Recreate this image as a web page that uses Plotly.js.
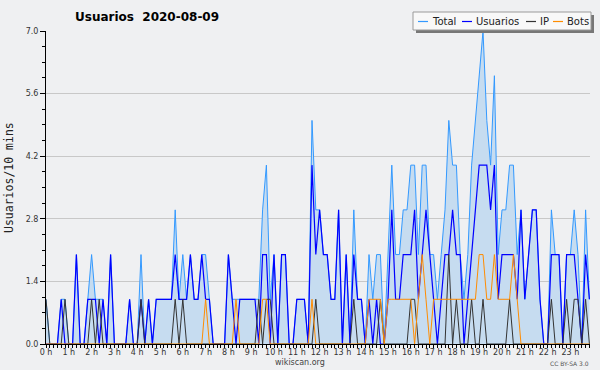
<!DOCTYPE html>
<html><head><meta charset="utf-8">
<script src="https://cdn.plot.ly/plotly-3.0.1.min.js"></script>
<style>html,body{margin:0;padding:0;background:#eff0f2;}#chart{width:600px;height:370px;}</style>
</head><body><div id="chart"></div>
<script>
// 10-minute slots, 144 per day (index 0 = 00:00)
const hourTicks = [0,1,2,3,4,5,6,7,8,9,10,11,12,13,14,15,16,17,18,19,20,21,22,23];
const hourLabels = ["0 h","1 h","2 h","3 h","4 h","5 h","6 h","7 h","8 h","9 h","10 h","11 h","12 h","13 h","14 h","15 h","16 h","17 h","18 h","19 h","20 h","21 h","22 h","23 h"];
const yTicks = [0, 1.4, 2.8, 4.2, 5.6, 7.0];
const yLabels = ["0.0","1.4","2.8","4.2","5.6","7.0"];
const seriesNames = ["Total","Usuarios","IP","Bots"];

const total = [
 1,0,0,0,1,1, 0,0,2,0,0,1, 2,1,1,1,0,2, 0,0,0,0,1,0,
 0,2,0,1,0,1, 1,1,1,1,3,1, 2,1,2,1,1,2, 2,1,0,0,0,0,
 2,1,1,1,1,1, 1,1,1,3,4,1, 2,0,2,2,0,0, 1,1,1,0,5,3,
 3,2,2,1,1,3, 0,2,0,3,1,1, 0,2,1,2,2,0, 2,4,2,2,3,3,
 4,4,2,4,4,2, 2,1,2,3,5,4, 4,2,1,2,4,5, 6,7,5,4,6,2,
 3,3,4,4,2,3, 1,2,3,3,1,0, 0,3,2,2,0,2, 2,3,2,0,3,1
];
const usuarios = [
 0,0,0,0,1,0, 0,0,2,0,0,1, 1,1,0,1,0,2, 0,0,0,0,1,0,
 0,1,0,1,0,1, 1,1,1,1,2,1, 1,1,2,1,1,2, 1,1,0,0,0,0,
 2,1,0,1,1,1, 1,1,0,2,2,0, 2,0,2,2,0,0, 1,1,1,0,4,2,
 3,2,2,1,1,3, 0,2,0,2,1,1, 0,1,0,1,0,0, 1,3,1,1,2,2,
 2,3,1,2,3,2, 1,0,1,2,2,3, 2,2,0,1,2,3, 4,4,4,3,4,1,
 2,2,2,2,1,3, 1,2,3,3,1,0, 0,2,2,2,0,2, 2,2,1,0,2,1
];
const ip = [
 1,0,0,0,0,1, 0,0,0,0,0,0, 1,0,1,0,0,0, 0,0,0,0,0,0,
 0,1,0,0,0,0, 0,0,0,0,1,0, 1,0,0,0,0,0, 0,0,0,0,0,0,
 0,0,0,0,0,0, 0,0,1,0,1,1, 0,0,0,0,0,0, 0,0,0,0,0,1,
 0,0,0,0,0,0, 0,0,0,1,0,0, 0,0,0,0,1,0, 0,0,0,0,0,0,
 1,1,0,0,0,0, 0,0,0,0,2,0, 1,0,0,0,1,0, 0,1,0,0,0,0,
 0,0,1,0,0,0, 0,0,0,0,0,0, 0,1,0,0,0,1, 0,1,1,0,1,0
];
const bots = [
 0,0,0,0,0,0, 0,0,0,0,0,0, 0,0,0,0,0,0, 0,0,0,0,0,0,
 0,0,0,0,0,0, 0,0,0,0,0,0, 0,0,0,0,0,0, 1,0,0,0,0,0,
 0,0,1,0,0,0, 0,0,0,1,1,0, 0,0,0,0,0,0, 0,0,0,0,1,0,
 0,0,0,0,0,0, 0,0,0,0,0,0, 0,1,1,1,1,0, 1,1,1,1,1,1,
 1,0,1,2,1,0, 1,1,1,1,1,1, 1,1,1,1,1,1, 2,2,1,1,2,1,
 1,1,1,2,1,0, 0,0,0,0,0,0, 0,0,0,0,0,0, 0,0,0,0,0,0
];

const xs = total.map((_, i) => i / 6);
const colors = ["#3399ff", "#0000ff", "#333333", "#ff8c00"];
const widths = [1, 1.2, 1, 1];

const traces = [total, usuarios, ip, bots].map((vals, k) => {
  const t = {x: xs, y: vals, type: "scatter", mode: "lines", name: seriesNames[k],
    line: {color: colors[k], width: widths[k]}, hoverinfo: "skip"};
  if (k === 0) { t.fill = "tozeroy"; t.fillcolor = "#c6dcf0"; }
  return t;
});

// pixel -> paper helpers (plot area 46..590 x, 31..344 y)
const px = v => (v - 46) / 544;
const py = v => (344 - v) / 313;

const shapes = [
  {type:"rect", xref:"paper", yref:"paper", x0:px(416), x1:px(594), y0:py(15), y1:py(33), fillcolor:"#777777", line:{width:0}, layer:"above"},
  {type:"rect", xref:"paper", yref:"paper", x0:px(413), x1:px(591), y0:py(12), y1:py(30), fillcolor:"#f8f8f8", line:{color:"#9a9a9a", width:1}, layer:"above"}
];
const legendLayout = [[418, 430], [462, 474], [526, 538], [553, 565]];
const annotations = [];
legendLayout.forEach((p, k) => {
  shapes.push({type:"line", xref:"paper", yref:"paper", x0:px(p[0]), x1:px(p[0] + 10), y0:py(21.5), y1:py(21.5),
    line:{color: colors[k], width: 1.2}, layer:"above"});
  annotations.push({xref:"paper", yref:"paper", x:px(p[1]), y:py(21.5), xanchor:"left", yanchor:"middle",
    text: seriesNames[k], showarrow:false, font:{family:"DejaVu Sans", size:10, color:"#222"}});
});
annotations.push({xref:"paper", yref:"paper", x:px(9), y:py(178), xanchor:"center", yanchor:"middle",
  text:"Usuarios/10 mins", textangle:-90, showarrow:false, font:{family:"DejaVu Sans Mono", size:11.5, color:"#222"}});
annotations.push({xref:"paper", yref:"paper", x:px(300), y:py(362.5), xanchor:"center", yanchor:"middle",
  text:"wikiscan.org", showarrow:false, font:{family:"DejaVu Sans", size:8, color:"#444"}});
annotations.push({xref:"paper", yref:"paper", x:px(591), y:py(363.5), xanchor:"right", yanchor:"middle",
  text:"CC BY-SA 3.0", showarrow:false, font:{family:"DejaVu Sans", size:6, color:"#555"}});

const layout = {
  width: 600, height: 370,
  margin: {l:46, r:10, t:31, b:26, pad:0},
  paper_bgcolor: "#eff0f2", plot_bgcolor: "#eff0f2",
  showlegend: false,
  title: {text: "<b>Usuarios\u00a0 2020-08-09</b>", font:{family:"DejaVu Sans", size:12, color:"#000"},
    x: 75/600, xanchor:"left", y: 1 - 17/370, yanchor:"middle"},
  xaxis: {range:[0, 544/22.8], tickmode:"array", tickvals:hourTicks, ticktext:hourLabels,
    ticks:"outside", ticklen:3, tickcolor:"#000", tickwidth:1, ticklabelstandoff:-3,
    showline:true, linecolor:"#000", linewidth:1, showgrid:false, zeroline:false,
    tickfont:{family:"DejaVu Sans", size:8, color:"#333"},
    minor:{tickmode:"linear", tick0:0, dtick:1/6, ticks:"outside", ticklen:3, tickcolor:"#000", showgrid:false},
    fixedrange:true},
  yaxis: {range:[0, 7], tickmode:"array", tickvals:yTicks, ticktext:yLabels,
    ticks:"outside", ticklen:5, tickcolor:"#000", tickwidth:1,
    showline:true, linecolor:"#000", linewidth:1, showgrid:true, gridcolor:"#c8c8c8", gridwidth:1, zeroline:false,
    tickfont:{family:"DejaVu Sans", size:8, color:"#333"},
    minor:{tickmode:"linear", tick0:0, dtick:0.35, ticks:"outside", ticklen:3, tickcolor:"#000", showgrid:false},
    fixedrange:true},
  shapes: shapes,
  annotations: annotations
};
Plotly.newPlot("chart", traces, layout, {staticPlot:true, displayModeBar:false});
</script></body></html>
